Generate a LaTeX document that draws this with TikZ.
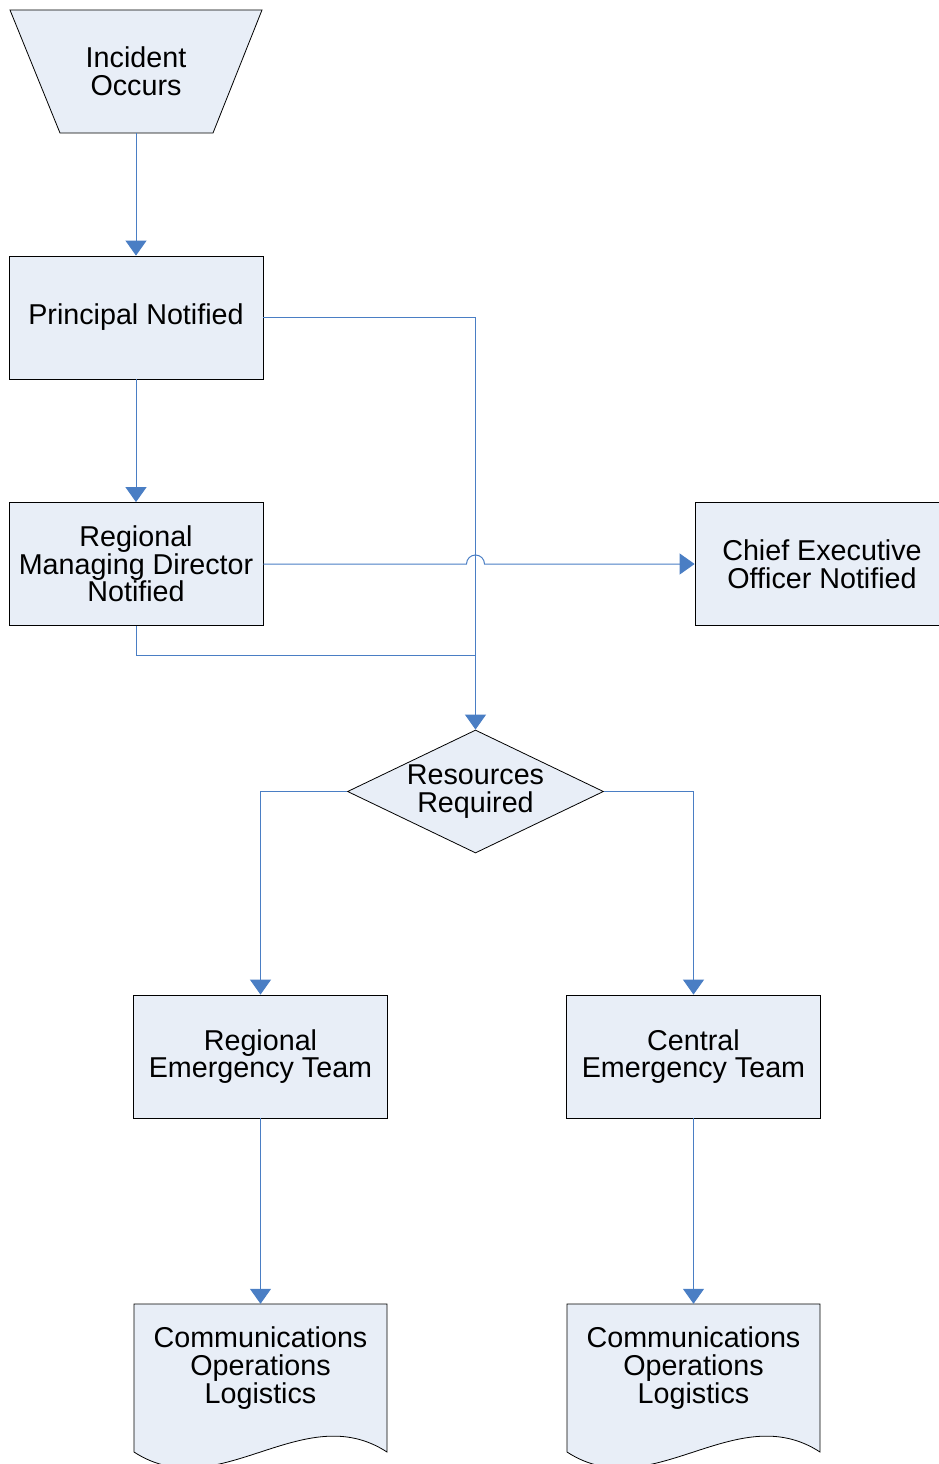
\documentclass[tikz,border=0pt]{standalone}
\usepackage{fontspec}
\setmainfont{Liberation Sans}
\usetikzlibrary{arrows.meta,shapes.geometric}

\definecolor{flowblue}{RGB}{74,126,196}
\definecolor{flowfill}{RGB}{232,238,247}

\begin{document}
\begin{tikzpicture}[
  x=1pt, y=-1pt,
  >={Triangle[width=21pt,length=15pt]},
  every node/.style={font=\fontsize{28.7}{27.6}\selectfont, align=center, inner sep=0pt},
  process node/.style={rectangle,draw=black,line width=0.8pt,fill=flowfill,minimum width=254,minimum height=123},
  decision node/.style={diamond,draw=black,line width=0.8pt,fill=flowfill,minimum width=256,minimum height=123,aspect=2.08},
  outline shape/.style={draw=black,line width=0.8pt,fill=flowfill},
  flow/.style={draw=flowblue,line width=1pt},
]
\useasboundingbox (0,0) rectangle (939,1464);

% start shape
\draw[outline shape] (10,10) -- (262,10) -- (213,133) -- (60,133) -- cycle;
\node[minimum width=153,minimum height=123] (incident) at (136,71.5) {Incident\\Occurs};

% shapes
\node[process node] (principal) at (136,317.5) {Principal Notified};
\node[process node] (rmd) at (136,564) {Regional\\Managing Director\\Notified};
\node[process node] (ceo) at (822,564) {Chief Executive\\Officer Notified};
\node[decision node] (resources) at (475.5,791.5) {Resources\\Required};
\node[process node] (regional) at (260.5,1056.5) {Regional\\Emergency Team};
\node[process node] (central) at (693.5,1056.5) {Central\\Emergency Team};

% document shapes
\foreach \x/\n in {260.5/docA, 693.5/docB} {
  \draw[outline shape] (\x-126.5,1304) -- (\x+126.5,1304) -- (\x+126.5,1452)
    .. controls (\x+42,1397) and (\x-42,1507) .. (\x-126.5,1452) -- cycle;
  \node[minimum width=253,minimum height=128] (\n) at (\x,1368) {Communications\\Operations\\Logistics};
}

\coordinate (merge) at (475.5,655);
\coordinate (jump) at (475.5,564);

% connectors
\draw[flow,->] (incident.south) -- (principal.north);
\draw[flow,->] (principal.south) -- (rmd.north);
\draw[flow,->] (principal.east) -| (resources.north);
\draw[flow] (rmd.south) |- (merge);
\draw[flow,->] (rmd.east) -- ([xshift=-9pt]jump) arc[start angle=180,end angle=360,radius=9] -- (ceo.west);
\draw[flow,->] (resources.west) -| (regional.north);
\draw[flow,->] (resources.east) -| (central.north);
\draw[flow,->] (regional.south) -- (docA.north);
\draw[flow,->] (central.south) -- (docB.north);
\end{tikzpicture}
\end{document}
